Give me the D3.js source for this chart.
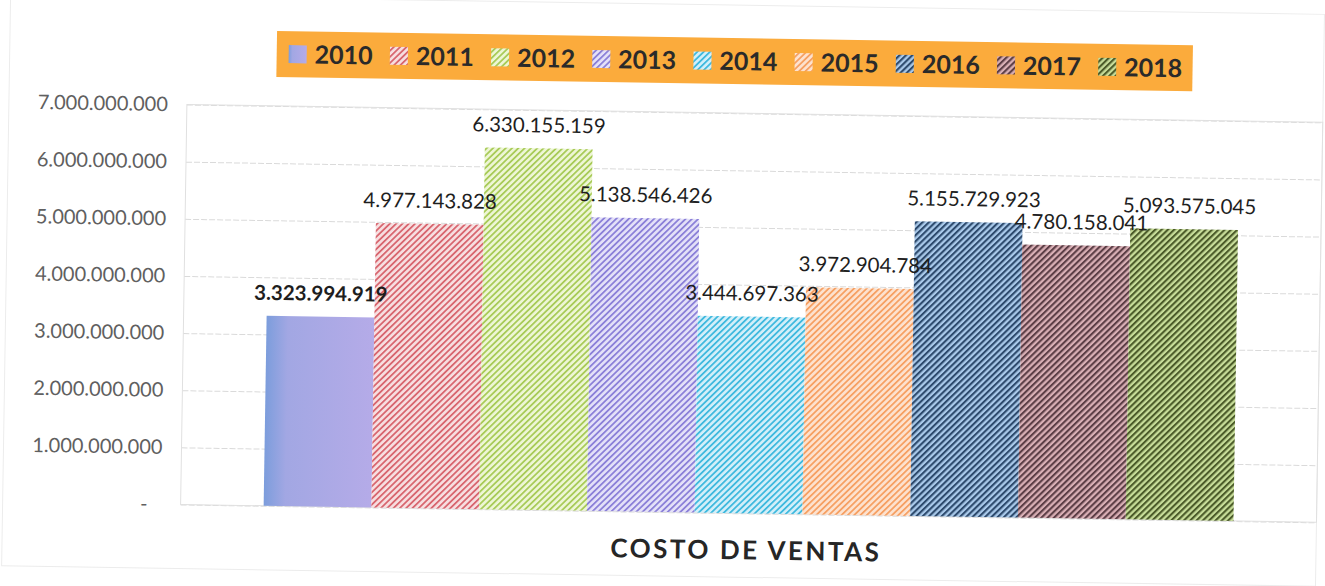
<!DOCTYPE html>
<html>
<head>
<meta charset="utf-8">
<script src="https://cdn.jsdelivr.net/npm/d3@7"></script>
<style>
body { margin: 0; background: #fff; }
text { font-family: Lato, "Open Sans", sans-serif; }
</style>
</head>
<body>
<div id="chart1"></div>
<script>

var category = "COSTO DE VENTAS";
var years = ["2010", "2011", "2012", "2013", "2014", "2015", "2016", "2017", "2018"];
var values = [3323994919, 4977143828, 6330155159, 5138546426, 3444697363, 3972904784, 5155729923, 4780158041, 5093575045];
var yTicks = [0, 1000000000, 2000000000, 3000000000, 4000000000, 5000000000, 6000000000, 7000000000];

// stripe colours per year (2010 is a plain gradient fill)
var stripeColors = ["#7f9fdd", "#d8666f", "#a8cb58", "#8b80d8", "#3fb9de", "#f6a063", "#2d4a6d", "#5c3e46", "#4b5b29"];
var backColors = ["#b2a9e8", "#f7dfe1", "#eef6d6", "#e4e1f8", "#d3eff9", "#fde2cf", "#a9c9ea", "#d9afb5", "#c7dd99"];

var width = 1325;
var height = 586;
var margin = {top: 112, right: 5, bottom: 75, left: 184};

var svg = d3.select("#chart1")
    .append("svg")
    .attr("width", width)
    .attr("height", height);

var defs = svg.append("defs");

var grad = defs.append("linearGradient")
    .attr("id", "fill0")
    .attr("x1", "0%").attr("x2", "100%")
    .attr("y1", "0%").attr("y2", "0%");
grad.append("stop").attr("offset", "0%").attr("stop-color", "#7c9ddc");
grad.append("stop").attr("offset", "20%").attr("stop-color", "#a2a7e3");
grad.append("stop").attr("offset", "100%").attr("stop-color", "#b5abe8");

years.forEach(function(y, i) {
    if (i == 0) return;
    var p = defs.append("pattern")
        .attr("id", "fill" + i)
        .attr("patternUnits", "userSpaceOnUse")
        .attr("width", 4.4)
        .attr("height", 4.4)
        .attr("patternTransform", "rotate(45)");
    p.append("rect")
        .attr("width", 4.4).attr("height", 4.4)
        .attr("fill", backColors[i]);
    p.append("rect")
        .attr("width", i >= 6 ? 2.1 : 1.8).attr("height", 4.4)
        .attr("fill", stripeColors[i]);
});

// the scanned chart is slightly tilted
var g = svg.append("g")
    .attr("transform", "rotate(0.9,662,293)");

// outer chart border
g.append("rect")
    .attr("x", 6).attr("y", 4)
    .attr("width", 1314).attr("height", 572)
    .attr("fill", "none")
    .attr("stroke", "#ececec");

var plotW = 1320 - margin.left;
var y = d3.scaleLinear()
    .domain([0, 7000000000])
    .range([512, margin.top]);

var x0 = d3.scaleBand()
    .domain([category])
    .range([margin.left, margin.left + plotW])
    .paddingOuter(0.0856);

var x1 = d3.scaleBand()
    .domain(years)
    .range([0, x0.bandwidth()]);

var fmt = d3.formatLocale({decimal: ",", thousands: ".", grouping: [3], currency: ["", ""]}).format(",.0f");

// gridlines
g.append("g")
    .attr("class", "grid")
    .attr("transform", "translate(" + margin.left + ",0)")
    .call(d3.axisLeft(y).tickValues(yTicks).tickSize(-plotW).tickFormat(""))
    .call(function(s) { s.select(".domain").remove(); })
    .selectAll("line")
        .attr("stroke", "#dadada")
        .attr("stroke-dasharray", "6,2");

// plot area border
g.append("rect")
    .attr("x", margin.left).attr("y", y(7000000000))
    .attr("width", plotW).attr("height", y(0) - y(7000000000))
    .attr("fill", "none")
    .attr("stroke", "#e0e0e0");

// y axis labels
var yAxis = g.append("g")
    .attr("transform", "translate(" + margin.left + ",0)")
    .call(d3.axisLeft(y).tickValues(yTicks).tickSize(0).tickPadding(19)
        .tickFormat(function(d) { return d == 0 ? "-" : fmt(d); }));
yAxis.select(".domain").remove();
yAxis.selectAll("text")
    .attr("font-family", "Lato, sans-serif")
    .attr("font-size", "20px")
    .attr("fill", "#606060")
    .attr("dx", function(d) { return d == 0 ? -14 : 0; });

// bars
var bars = g.append("g")
    .attr("transform", "translate(" + x0(category) + ",0)");

bars.selectAll("rect")
    .data(values)
    .enter()
    .append("rect")
        .attr("x", function(d, i) { return x1(years[i]); })
        .attr("y", function(d) { return y(d); })
        .attr("width", x1.bandwidth())
        .attr("height", function(d) { return y(0) - y(d); })
        .attr("fill", function(d, i) { return "url(#fill" + i + ")"; });

bars.selectAll(".valueLabel")
    .data(values)
    .enter()
    .append("text")
        .attr("class", "valueLabel")
        .attr("x", function(d, i) { return x1(years[i]) + x1.bandwidth() / 2 + (i >= 5 ? 5 : 0); })
        .attr("y", function(d) { return y(d) - 16; })
        .attr("text-anchor", "middle")
        .attr("font-size", "20.5px")
        .attr("font-weight", function(d, i) { return i == 0 ? "bold" : "normal"; })
        .attr("fill", "#1e1e1e")
        .text(function(d) { return fmt(d); });

// legend
var legend = g.append("g");
legend.append("rect")
    .attr("x", 273).attr("y", 37)
    .attr("width", 916).attr("height", 46)
    .attr("fill", "#fbab3c");

var items = legend.selectAll(".item")
    .data(years)
    .enter()
    .append("g")
        .attr("class", "item")
        .attr("transform", function(d, i) { return "translate(" + (285 + i * 101.2) + ",60)"; });

items.append("rect")
    .attr("x", 0).attr("y", -9)
    .attr("width", 18).attr("height", 18)
    .attr("fill", function(d, i) { return "url(#fill" + i + ")"; });

items.append("text")
    .attr("x", 26)
    .attr("y", 9)
    .attr("font-size", "25px")
    .attr("font-weight", "bold")
    .attr("fill", "#2a2a2a")
    .text(function(d) { return d; });

// category title
g.append("text")
    .attr("x", x0(category) + x0.bandwidth() / 2 - 2)
    .attr("y", 558)
    .attr("text-anchor", "middle")
    .attr("font-size", "26px")
    .attr("font-weight", "bold")
    .attr("letter-spacing", "2.5px")
    .attr("fill", "#262626")
    .text(category);

</script>
</body>
</html>
